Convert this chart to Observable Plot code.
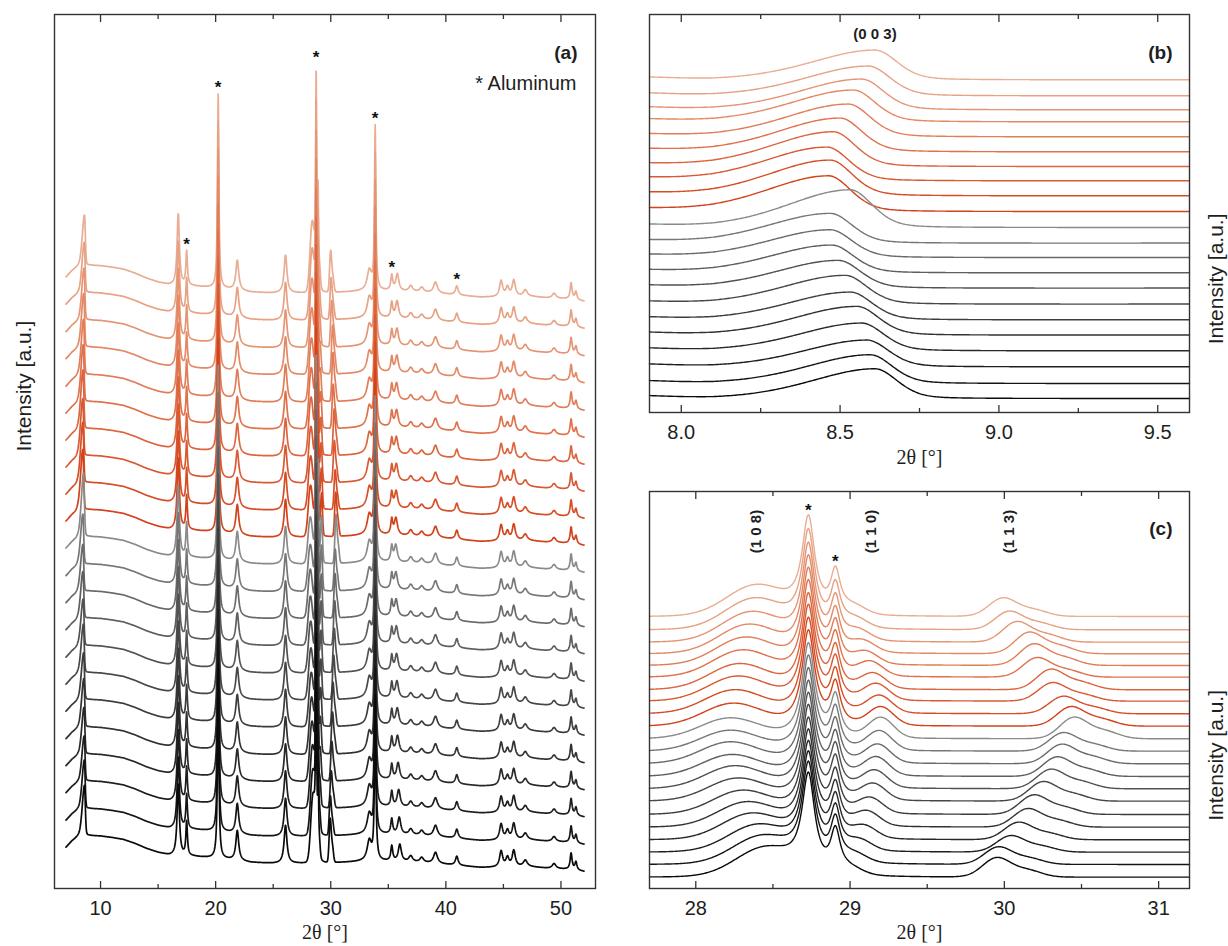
<!DOCTYPE html>
<html><head><meta charset="utf-8">
<script src="https://cdn.jsdelivr.net/npm/d3@7"></script>
<script src="https://cdn.jsdelivr.net/npm/@observablehq/plot@0.6"></script>
<style>
html,body{margin:0;padding:0;background:#fff;}
#root{position:relative;width:1228px;height:946px;overflow:hidden;background:#fff;}
</style></head>
<body><div id="root"></div>
<script>
// ---------- shared: 22 patterns, bottom (1) to top (22) ----------
const traceColors = [
 "#0a0a0a","#141414","#1e1e1e","#282828","#323232","#3c3c3c","#474747","#525252","#5e5e5e","#6a6a6a","#777777","#8a8a8a",
 "#d2421b","#d64e26","#d95932","#dc653e","#df714b","#e17d58","#e38966","#e59574","#e7a183","#e9ad93"];

// ---------- panel (b): (0 0 3) reflection ----------
const bOffset = [14.3, 29.3, 46, 62, 77.7, 93, 108.7, 124.7, 140, 155.3, 169.7, 185.3, 201.3, 217, 232, 246.3, 261, 276, 291, 303, 317, 333];
const b003Pos = [8.61, 8.595, 8.584, 8.568, 8.553, 8.532, 8.516, 8.495, 8.474, 8.469, 8.469, 8.532, 8.464, 8.469, 8.459, 8.479, 8.50, 8.526, 8.542, 8.568, 8.589, 8.61];
const b003H   = [30, 29, 27, 28, 29, 28, 29, 28, 28, 28, 30, 38, 36, 36, 34, 35, 34, 33, 32, 31, 30, 30];
const b003SigmaL = 0.2, b003SigmaR = 0.07, b003Eta = 0.3;
const bBaseX = [7.9, 8.0, 8.1, 8.2, 8.4, 9.6];
const bBaseY = [1.7, 0.3, -0.8, -0.9, -0.6, -0.3];
const bMajor = [8.0, 8.5, 9.0, 9.5];
const bMinor = [8.25, 8.75, 9.25];

// ---------- panel (c): 28-31 deg region ----------
const cOffset = [11.3, 24, 36.3, 48.7, 61.3, 74, 87.3, 99.7, 112, 124.7, 137.3, 149.7, 162.3, 174.7, 187.3, 198.7, 211.3, 223, 234.7, 246.3, 258.7, 272];
const cAlPos = [28.73, 28.905];
const cAlH   = [94, 40];
const cAlW   = [0.1, 0.075];
const c108Pos = [28.45, 28.43, 28.40, 28.36, 28.33, 28.30, 28.27, 28.25, 28.23, 28.22, 28.22, 28.22, 28.24, 28.25, 28.27, 28.28, 28.30, 28.32, 28.34, 28.36, 28.38, 28.39];
const c108H   = [28, 27, 26, 25, 24, 23, 22, 22, 21, 21, 20, 20, 22, 23, 24, 25, 26, 27, 28, 29, 30, 30];
const c110Pos = [29.0, 29.03, 29.06, 29.09, 29.11, 29.13, 29.15, 29.16, 29.17, 29.18, 29.19, 29.2, 29.2, 29.19, 29.17, 29.15, 29.13, 29.1, 29.08, 29.05, 29.03, 29.02];
const c110H   = [6, 8, 10, 12, 14, 15, 16, 17, 18, 18, 19, 20, 18, 17, 16, 15, 14, 12, 11, 10, 9, 8];
const c113Pos = [29.95, 29.96, 30.04, 30.09, 30.15, 30.19, 30.25, 30.30, 30.34, 30.37, 30.38, 30.45, 30.43, 30.38, 30.31, 30.30, 30.21, 30.19, 30.16, 30.08, 30.03, 29.99];
const c113H   = [19, 17, 16, 17, 18, 19, 19, 19, 19, 19, 18, 21, 19, 17, 18, 20, 19, 21, 21, 20, 18, 18];
const c108Sigma = 0.19, c110Sigma = 0.08, c113Sigma = 0.09;
const c113ShoulderShift = 0.2, c113ShoulderRatio = 0.35;
const cMajor = [28, 29, 30, 31];
const cMinor = [28.5, 29.5, 30.5];
const hklLabels = ["(1 0 8)", "(1 1 0)", "(1 1 3)"];
const hklPos = [28.39, 29.14, 30.03];

// ---------- panel (a): full patterns ----------
const aOffset = [41, 68, 95.5, 122.5, 149.5, 177, 204, 231, 258.5, 285.5, 312.5, 340, 367, 394, 421, 448, 475, 502, 529.5, 556.5, 584, 611.3];
const aBaseX = [7.0, 7.5, 8.0, 9.0, 10.0, 11.0, 12.0, 13.0, 14.0, 15.0, 16.0, 17.0, 18.0, 19.0, 21.0, 23.0, 25.0, 27.0, 29.0, 31.0, 33.0, 35.0, 37.0, 39.0, 41.0, 43.0, 45.0, 47.0, 49.0, 51.0, 52.0];
const aBaseY = [0, 6, 10, 12, 11.5, 10, 8, 4, -1, -5, -8, -9, -9, -10, -12, -15, -16, -16, -16, -15, -14, -14, -15, -16, -18, -20, -20, -19, -21, -22, -24];
const aPeakPos = [16.75, 17.48, 20.22, 21.88, 26.07, 33.35, 33.86, 35.30, 36.95, 37.9, 39.1, 40.95, 44.8, 45.35, 45.9, 46.9, 49.4, 50.88, 51.3];
const aPeakH   = [72, 34, 194, 30, 38, 20, 163, 15, 6, 5, 11, 9, 16, 9, 16, 6, 5, 16, 8];
const aPeakW   = [0.24, 0.16, 0.14, 0.3, 0.3, 0.45, 0.14, 0.2, 0.4, 0.4, 0.4, 0.28, 0.32, 0.32, 0.32, 0.4, 0.4, 0.2, 0.2];
const a36Pos = [36.0, 35.95, 35.9, 35.85, 35.8, 35.78, 35.75, 35.72, 35.7, 35.68, 35.66, 35.65, 35.66, 35.68, 35.7, 35.7, 35.72, 35.72, 35.74, 35.75, 35.76, 35.78];
const a36H = 17, a36W = 0.32;
const aScale003 = 1.7, aScaleRegion = 2.25;
const aAlStars = [17.48, 20.22, 28.73, 33.86, 35.30, 40.95];
const aMajor = [10, 20, 30, 40, 50];
const aMinor = [15, 25, 35, 45];

// ---------- profile helpers ----------
function lor(x, p, h, w) { const d = (x - p) / (w / 2); return h / (1 + d * d); }
function gau(x, p, h, s) { const d = (x - p) / s; return h * Math.exp(-0.5 * d * d); }
function spv(x, p, h, sl, sr, eta) {
  const s = x < p ? sl : sr, d = (x - p) / s, q = d / 1.1774;
  return h * ((1 - eta) * Math.exp(-0.5 * d * d) + eta / (1 + q * q));
}

const bBase = d3.scaleLinear().domain(bBaseX).range(bBaseY);
const aBase = d3.scaleLinear().domain(aBaseX).range(aBaseY);

function cRegion(x, i) {
  return gau(x, c108Pos[i], c108H[i], c108Sigma)
    + lor(x, cAlPos[0], cAlH[0], cAlW[0]) + lor(x, cAlPos[1], cAlH[1], cAlW[1])
    + gau(x, c110Pos[i], c110H[i], c110Sigma)
    + gau(x, c113Pos[i], c113H[i], c113Sigma)
    + gau(x, c113Pos[i] + c113ShoulderShift, c113H[i] * c113ShoulderRatio, c113Sigma);
}
function bValue(x, i) { return bOffset[i] + bBase(x) + spv(x, b003Pos[i], b003H[i], b003SigmaL, b003SigmaR, b003Eta); }
function cValue(x, i) { return cOffset[i] + cRegion(x, i); }
function aValue(x, i) {
  let y = aOffset[i] + aBase(x);
  for (let j = 0; j < aPeakPos.length; j++) y += lor(x, aPeakPos[j], aPeakH[j], aPeakW[j]);
  y += lor(x, a36Pos[i], a36H, a36W);
  y += aScale003 * spv(x, b003Pos[i], b003H[i], b003SigmaL, b003SigmaR, b003Eta);
  y += aScaleRegion * cRegion(x, i);
  return y;
}

const aX = d3.range(7.0, 52.0001, 0.02);
const bX = d3.range(7.9, 9.6001, 0.005);
const cX = d3.range(27.7, 31.2001, 0.005);
const N = traceColors.length;
const aData = d3.range(N).map(i => aX.map(x => ({x, y: aValue(x, i)})));
const bData = d3.range(N).map(i => bX.map(x => ({x, y: bValue(x, i)})));
const cData = d3.range(N).map(i => cX.map(x => ({x, y: cValue(x, i)})));

const fontSans = "'Liberation Sans', Arial, Helvetica, sans-serif";
const fontSerif = "'Liberation Serif', 'Times New Roman', serif";
const ink = "#1e1e1e";

function traceMarks(data, sw) {
  const m = [];
  for (let i = N - 1; i >= 0; i--) m.push(Plot.line(data[i], {x: "x", y: "y", stroke: traceColors[i], strokeWidth: sw, strokeLinejoin: "round"}));
  return m;
}
function axisMarks(major, minor, fmt) {
  return [
    Plot.frame({stroke: "#333", strokeWidth: 1.4}),
    Plot.axisX(major, {anchor: "bottom", tickSize: 0, tickPadding: 12, tickFormat: fmt, label: null, fontSize: 20, fontFamily: fontSans, fill: ink}),
    Plot.axisX(major, {anchor: "bottom", tickSize: -7, fill: "none", label: null, stroke: "#333", strokeWidth: 1.3}),
    Plot.axisX(minor, {anchor: "bottom", tickSize: -4, fill: "none", label: null, stroke: "#333", strokeWidth: 1.3}),
    Plot.axisX(major, {anchor: "top", tickSize: -7, fill: "none", label: null, stroke: "#333", strokeWidth: 1.3}),
    Plot.axisX(minor, {anchor: "top", tickSize: -4, fill: "none", label: null, stroke: "#333", strokeWidth: 1.3})
  ];
}
function xTitle(dy) {
  return Plot.text(["2θ [°]"], {frameAnchor: "bottom", text: d => d, dy, fontFamily: fontSerif, fontSize: 20, lineAnchor: "middle", fill: ink});
}
function yTitle(side, dx) {
  return Plot.text(["Intensity [a.u.]"], {frameAnchor: side, text: d => d, dx, rotate: -90, fontFamily: fontSans, fontSize: 21, lineAnchor: "middle", fill: ink});
}
function peakTop(fn, i, p, half) {
  return d3.max(d3.range(p - half, p + half, 0.002), x => fn(x, i));
}

// ---------- panel (a) ----------
const topIdx = N - 1;
const starsA = aAlStars.map(p => ({x: p, y: peakTop(aValue, topIdx, p, 0.12)}));
const plotA = Plot.plot({
  width: 600, height: 946,
  marginLeft: 54, marginRight: 5, marginTop: 14, marginBottom: 58,
  x: {domain: [6, 53]},
  y: {domain: [0, 874], axis: null},
  style: {fontFamily: fontSans, color: ink, background: "transparent", overflow: "visible"},
  marks: [
    ...traceMarks(aData, 1.7),
    ...axisMarks(aMajor, aMinor, d => d),
    Plot.text(starsA, {x: "x", y: "y", text: () => "*", dy: -6, fontSize: 17, fontWeight: "bold", fill: "#111", lineAnchor: "middle"}),
    Plot.text(["(a)"], {frameAnchor: "top-right", text: d => d, dx: -18, dy: 38, textAnchor: "end", lineAnchor: "middle", fontWeight: "bold", fontSize: 19, fill: ink}),
    Plot.text(["* Aluminum"], {frameAnchor: "top-right", text: d => d, dx: -19, dy: 69, textAnchor: "end", lineAnchor: "middle", fontSize: 20, fill: ink}),
    xTitle(44),
    yTitle("left", -30)
  ]
});

// ---------- panel (b) ----------
const plotB = Plot.plot({
  width: 628, height: 470,
  marginLeft: 49, marginRight: 39, marginTop: 14, marginBottom: 58,
  x: {domain: [7.9, 9.6]},
  y: {domain: [0, 398], axis: null},
  style: {fontFamily: fontSans, color: ink, background: "transparent", overflow: "visible"},
  marks: [
    ...traceMarks(bData, 1.4),
    ...axisMarks(bMajor, bMinor, d3.format(".1f")),
    Plot.text([{x: b003Pos[topIdx], t: "(0 0 3)"}], {x: "x", text: "t", frameAnchor: "top", dy: 20, fontWeight: "bold", fontSize: 15, lineAnchor: "middle", fill: ink}),
    Plot.text(["(b)"], {frameAnchor: "top-right", text: d => d, dx: -17, dy: 38, textAnchor: "end", lineAnchor: "middle", fontWeight: "bold", fontSize: 19, fill: ink}),
    xTitle(45),
    yTitle("right", 27)
  ]
});

// ---------- panel (c) ----------
const starsC = cAlPos.map(p => ({x: p, y: peakTop(cValue, topIdx, p, 0.05)}));
const plotC = Plot.plot({
  width: 628, height: 476,
  marginLeft: 49, marginRight: 39, marginTop: 21, marginBottom: 58,
  x: {domain: [27.7, 31.2]},
  y: {domain: [0, 397], axis: null},
  style: {fontFamily: fontSans, color: ink, background: "transparent", overflow: "visible"},
  marks: [
    ...traceMarks(cData, 1.4),
    ...axisMarks(cMajor, cMinor, d => d),
    Plot.text(starsC, {x: "x", y: "y", text: () => "*", dy: -4, fontSize: 17, fontWeight: "bold", fill: "#111", lineAnchor: "middle"}),
    Plot.text(hklLabels.map((t, k) => ({t, x: hklPos[k]})), {x: "x", text: "t", frameAnchor: "top", dy: 40, rotate: -90, fontWeight: "bold", fontSize: 15, lineAnchor: "middle", fill: ink}),
    Plot.text(["(c)"], {frameAnchor: "top-right", text: d => d, dx: -17, dy: 37, textAnchor: "end", lineAnchor: "middle", fontWeight: "bold", fontSize: 19, fill: ink}),
    xTitle(44),
    yTitle("right", 27)
  ]
});

const root = document.getElementById("root");
function place(el, left, top) {
  el.style.position = "absolute";
  el.style.left = left + "px";
  el.style.top = top + "px";
  root.appendChild(el);
}
place(plotA, 0, 0);
place(plotB, 600, 0);
place(plotC, 600, 470);
</script>
</body></html>
